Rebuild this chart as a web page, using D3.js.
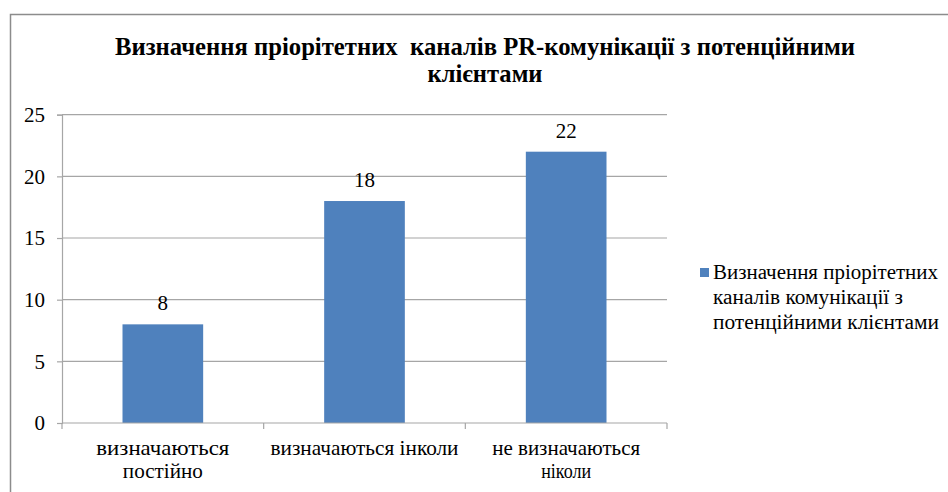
<!DOCTYPE html>
<html>
<head>
<meta charset="utf-8">
<script src="https://cdn.jsdelivr.net/npm/d3@7/dist/d3.min.js"></script>
</head>
<body style="margin:0">
<svg id="chart" width="948" height="492" font-family="Liberation Serif"></svg>
<script>
var titleLines = ['Визначення пріорітетних  каналів PR-комунікації з потенційними', 'клієнтами']
  , categories = [['визначаються', 'постійно'], ['визначаються інколи'], ['не визначаються', 'ніколи']]
  , values = [8, 18, 22]
  , yTicks = [0, 5, 10, 15, 20, 25]
  , legendLines = ['Визначення пріорітетних', 'каналів комунікації з', 'потенційними клієнтами']

// widths of the text lines as measured on the reference
var titleWidths = [740, 115]
  , categoryWidths = [[133, 80], [188], [148, 50]]
  , legendWidths = [225, 190, 226]

var width = 948
  , height = 492
  , margin = {left: 62, right: 281, top: 114.7, bottom: 69}
  , barColor = '#4f81bd'
  , gridColor = '#a6a6a6'
  , fontName = 'Liberation Serif'

var svg = d3.select('#chart')

// sets the serif font on a text selection
var serifText = function(t, size) {
  t.attr('font-family', fontName)
    .attr('font-size', size)
    .style('font-family', '"' + fontName + '"')
}

// Outer chart frame (cut by the screenshot at right and bottom)
svg.append('rect')
  .attr('x', 10.5).attr('y', 14.5)
  .attr('width', 960).attr('height', 500)
  .attr('fill', 'none')
  .attr('stroke', '#8c8c8c')
  .attr('stroke-width', 1.5)

// Title
svg.append('g').selectAll('text')
  .data(titleLines)
  .join('text')
    .attr('x', 485)
    .attr('y', function(d, i) { return 55 + i * 27 })
    .attr('text-anchor', 'middle')
    .call(serifText, 25)
    .attr('font-weight', 'bold')
    .style('white-space', 'pre')
    .attr('textLength', function(d, i) { return titleWidths[i] })
    .attr('lengthAdjust', 'spacingAndGlyphs')
    .text(function(d) { return d })

var x = d3.scaleBand()
  .domain(d3.range(categories.length))
  .range([margin.left, width - margin.right])
  .paddingInner(0.6)
  .paddingOuter(0.3)

var y = d3.scaleLinear()
  .domain([0, 25])
  .range([height - margin.bottom, margin.top])

// Gridlines
svg.append('g').selectAll('line')
  .data(yTicks.slice(1))
  .join('line')
    .attr('x1', margin.left).attr('x2', width - margin.right)
    .attr('y1', function(d) { return y(d) }).attr('y2', function(d) { return y(d) })
    .attr('stroke', gridColor)
    .attr('stroke-width', 1.2)

// Y axis
var yAxis = svg.append('g')
  .attr('transform', 'translate(' + margin.left + ',0)')
  .call(d3.axisLeft(y).tickValues(yTicks).tickSize(5).tickPadding(12))
yAxis.attr('font-family', fontName).attr('font-size', 21)
yAxis.select('.domain').attr('stroke', gridColor).attr('stroke-width', 1.2)
yAxis.selectAll('.tick line').attr('stroke', gridColor).attr('stroke-width', 1.2)
yAxis.selectAll('.tick text')
  .call(serifText, 21)
  .attr('fill', '#000')

// Bars
svg.append('g').selectAll('rect')
  .data(values)
  .join('rect')
    .attr('x', function(d, i) { return x(i) })
    .attr('y', function(d) { return y(d) })
    .attr('width', x.bandwidth())
    .attr('height', function(d) { return y(0) - y(d) })
    .attr('fill', barColor)

// Value labels
svg.append('g').selectAll('text')
  .data(values)
  .join('text')
    .attr('x', function(d, i) { return x(i) + x.bandwidth() / 2 })
    .attr('y', function(d) { return y(d) - 14 })
    .attr('text-anchor', 'middle')
    .call(serifText, 21)
    .text(function(d) { return d })

// X axis: baseline and boundary ticks
var step = x.step()
  , bounds = d3.range(categories.length + 1).map(function(i) { return margin.left + i * step })
svg.append('line')
  .attr('x1', margin.left).attr('x2', width - margin.right)
  .attr('y1', y(0)).attr('y2', y(0))
  .attr('stroke', gridColor).attr('stroke-width', 1.2)
svg.append('g').selectAll('line')
  .data(bounds)
  .join('line')
    .attr('x1', function(d) { return d }).attr('x2', function(d) { return d })
    .attr('y1', y(0)).attr('y2', y(0) + 6)
    .attr('stroke', gridColor).attr('stroke-width', 1.2)

// Category labels, one text per line
var catLines = []
categories.forEach(function(lines, i) {
  lines.forEach(function(s, j) { catLines.push({s: s, i: i, j: j, w: categoryWidths[i][j]}) })
})
svg.append('g').selectAll('text')
  .data(catLines)
  .join('text')
    .attr('x', function(d) { return x(d.i) + x.bandwidth() / 2 })
    .attr('y', function(d) { return 455 + d.j * 23 })
    .attr('text-anchor', 'middle')
    .call(serifText, 21)
    .attr('textLength', function(d) { return d.w })
    .attr('lengthAdjust', 'spacingAndGlyphs')
    .text(function(d) { return d.s })

// Legend
svg.append('rect')
  .attr('x', 700).attr('y', 268)
  .attr('width', 9).attr('height', 9)
  .attr('fill', barColor)
svg.append('g').selectAll('text')
  .data(legendLines)
  .join('text')
    .attr('x', 713)
    .attr('y', function(d, i) { return 279 + i * 25 })
    .call(serifText, 20)
    .attr('textLength', function(d, i) { return legendWidths[i] })
    .attr('lengthAdjust', 'spacingAndGlyphs')
    .text(function(d) { return d })
</script>
</body>
</html>
